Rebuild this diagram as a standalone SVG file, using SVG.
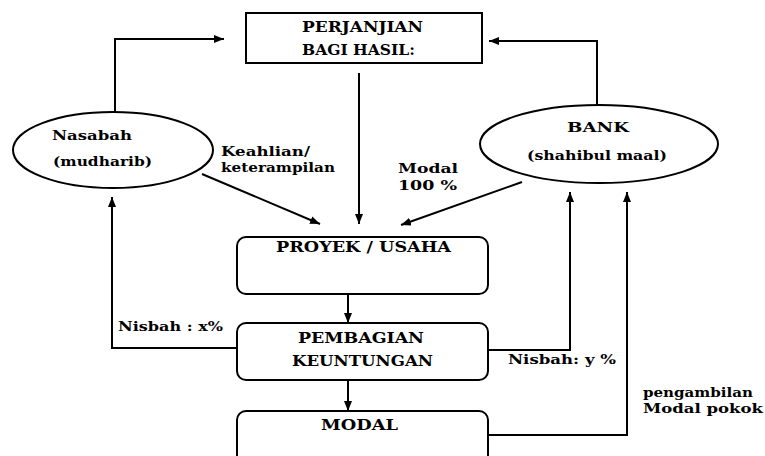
<svg xmlns="http://www.w3.org/2000/svg" width="765" height="456" viewBox="0 0 765 456">
<style>
.shape{fill:#fff;stroke:#000;stroke-width:2}
.ln{fill:none;stroke:#000;stroke-width:2}
.t{font-family:"DejaVu Serif","Liberation Serif",serif;font-weight:bold;fill:#000}
.big{font-size:14px}
.sm{font-size:13px}
</style>
<defs>
<marker id="ah" viewBox="0 0 10 8" refX="10" refY="4" markerWidth="10" markerHeight="8" markerUnits="userSpaceOnUse" orient="auto">
<path d="M0,0 L10,4 L0,8 z" fill="#000"/>
</marker>
</defs>
<rect width="765" height="456" fill="#fff"/>
<g id="connectors" class="ln" marker-end="url(#ah)">
<path d="M115,112 V39 H224"/>
<path d="M597,105 V41 H489"/>
<path d="M359,73 V224"/>
<path d="M202,174 L320,224"/>
<path d="M522,182 L401,225"/>
<path d="M348,294 V323"/>
<path d="M348,380 V411"/>
<path d="M237,348 H112 V197"/>
<path d="M489,350 H570 V192"/>
<path d="M489,435 H627 V192"/>
</g>
<g id="perjanjian">
<rect class="shape" x="246" y="13" width="236" height="50"/>
<text class="t big" x="302" y="32" textLength="121" lengthAdjust="spacingAndGlyphs">PERJANJIAN</text>
<text class="t big" x="302" y="55" textLength="113" lengthAdjust="spacingAndGlyphs">BAGI HASIL:</text>
</g>
<g id="nasabah">
<ellipse class="shape" cx="113" cy="150" rx="100" ry="38"/>
<text class="t sm" x="52" y="140" textLength="80" lengthAdjust="spacingAndGlyphs">Nasabah</text>
<text class="t sm" x="53" y="166" textLength="99" lengthAdjust="spacingAndGlyphs">(mudharib)</text>
</g>
<g id="bank">
<ellipse class="shape" cx="599" cy="144" rx="119" ry="39"/>
<text class="t sm" x="567" y="132" textLength="62" lengthAdjust="spacingAndGlyphs">BANK</text>
<text class="t sm" x="527" y="160" textLength="140" lengthAdjust="spacingAndGlyphs">(shahibul maal)</text>
</g>
<g id="proyek">
<rect class="shape" x="237" y="237" width="251" height="57" rx="9"/>
<text class="t big" x="276" y="252" textLength="175" lengthAdjust="spacingAndGlyphs">PROYEK / USAHA</text>
</g>
<g id="pembagian">
<rect class="shape" x="237" y="323" width="251" height="57" rx="9"/>
<text class="t big" x="298" y="343" textLength="126" lengthAdjust="spacingAndGlyphs">PEMBAGIAN</text>
<text class="t big" x="292" y="366" textLength="141" lengthAdjust="spacingAndGlyphs">KEUNTUNGAN</text>
</g>
<g id="modal">
<rect class="shape" x="237" y="411" width="251" height="55" rx="9"/>
<text class="t big" x="321" y="430" textLength="77" lengthAdjust="spacingAndGlyphs">MODAL</text>
</g>
<g id="labels">
<text class="t sm" x="221" y="156" textLength="89" lengthAdjust="spacingAndGlyphs">Keahlian/</text>
<text class="t sm" x="221" y="172" textLength="114" lengthAdjust="spacingAndGlyphs">keterampilan</text>
<text class="t sm" x="398" y="173" textLength="60" lengthAdjust="spacingAndGlyphs">Modal</text>
<text class="t sm" x="398" y="190" textLength="59" lengthAdjust="spacingAndGlyphs">100 %</text>
<text class="t sm" x="118" y="331" textLength="105" lengthAdjust="spacingAndGlyphs">Nisbah : x%</text>
<text class="t sm" x="508" y="364" textLength="108" lengthAdjust="spacingAndGlyphs">Nisbah: y %</text>
<text class="t sm" x="643" y="397" textLength="110" lengthAdjust="spacingAndGlyphs">pengambilan</text>
<text class="t sm" x="643" y="413" textLength="120" lengthAdjust="spacingAndGlyphs">Modal pokok</text>
</g>
</svg>
